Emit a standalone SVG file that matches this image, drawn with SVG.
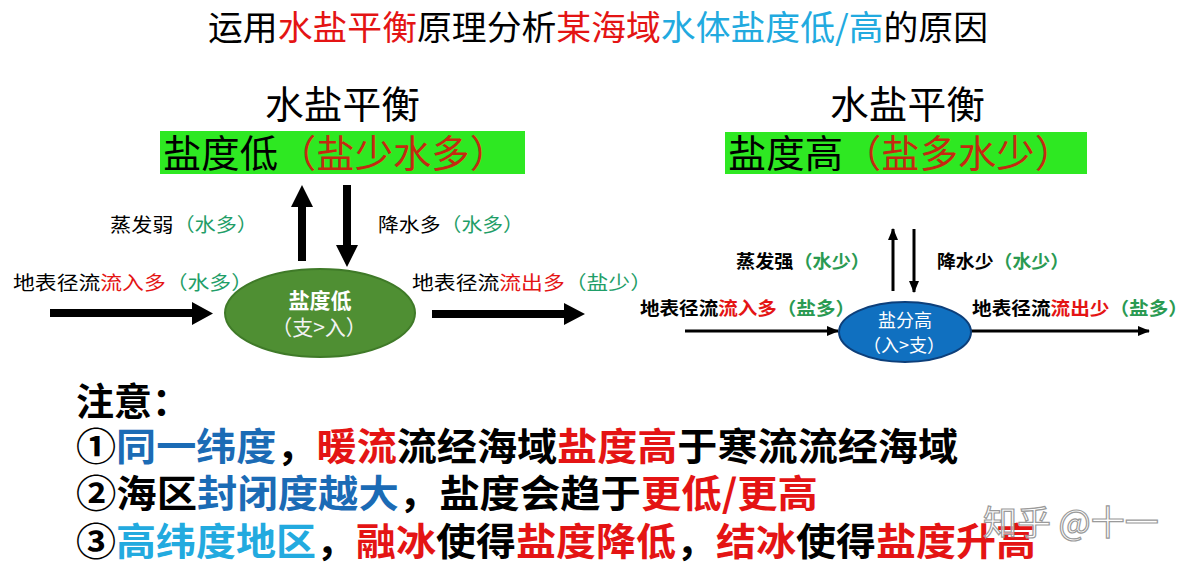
<svg xmlns="http://www.w3.org/2000/svg" width="1201" height="574" viewBox="0 0 1201 574">
<style>
text{font-family:"Noto Sans CJK SC","Liberation Sans",sans-serif}
.k{fill:#000}
.r{fill:#e41414}
.dr{fill:#c42a10}
.g{fill:#1f9e68}
.g2{fill:#2a9a52}
.b{fill:#1b6bb5}
.lb{fill:#22aadf}
.w{fill:#fff}
.bold{font-weight:700}
.thin{stroke:#000;stroke-width:3;fill:none}
</style>
<defs>
<marker id="ah" viewBox="0 0 12 10" refX="11" refY="5" markerWidth="12" markerHeight="10" orient="auto" markerUnits="userSpaceOnUse">
<path d="M0,0 L12,5 L0,10 z" fill="#000"/>
</marker>
</defs>
<rect width="1201" height="574" fill="#fff"/>

<g id="title">
<text x="208" y="40" font-size="34" textLength="780" lengthAdjust="spacingAndGlyphs"><tspan class="k">运用</tspan><tspan class="r">水盐平衡</tspan><tspan class="k">原理分析</tspan><tspan class="r">某海域</tspan><tspan class="lb">水体盐度低/高</tspan><tspan class="k">的原因</tspan></text>
</g>

<g id="left-heading">
<text x="265" y="118" font-size="38" textLength="155" lengthAdjust="spacingAndGlyphs" class="k">水盐平衡</text>
<rect x="160" y="131" width="365" height="43" fill="#2ee822"/>
<text x="163" y="167" font-size="38" textLength="345" lengthAdjust="spacingAndGlyphs"><tspan class="k">盐度低</tspan><tspan class="dr">（盐少水多）</tspan></text>
</g>

<g id="right-heading">
<text x="830" y="118" font-size="38" textLength="155" lengthAdjust="spacingAndGlyphs" class="k">水盐平衡</text>
<rect x="725" y="132" width="362" height="42" fill="#2ee822"/>
<text x="728" y="167" font-size="38" textLength="345" lengthAdjust="spacingAndGlyphs"><tspan class="k">盐度高</tspan><tspan class="dr">（盐多水少）</tspan></text>
</g>

<g id="connectors">
<polygon points="50,309 192,309 192,302 213,313.5 192,325 192,317 50,317" fill="#000"/>
<polygon points="432,310 564,310 564,303 585,314 564,325 564,318 432,318" fill="#000"/>
<polygon points="302,185 313,207 306,207 306,261 298,261 298,207 291,207" fill="#000"/>
<polygon points="343,185 351,185 351,245 358,245 347,267 336,245 343,245" fill="#000"/>
<line x1="893" y1="291" x2="893" y2="229" class="thin" marker-end="url(#ah)"/>
<line x1="914" y1="229" x2="914" y2="292" class="thin" marker-end="url(#ah)"/>
<line x1="685" y1="331" x2="838" y2="331" class="thin" marker-end="url(#ah)"/>
<line x1="971" y1="331" x2="1149" y2="331" class="thin" marker-end="url(#ah)"/>
</g>

<g id="left-labels">
<text x="110" y="232" font-size="19" textLength="148" lengthAdjust="spacingAndGlyphs"><tspan class="k">蒸发弱</tspan><tspan class="g">（水多）</tspan></text>
<text x="378" y="232" font-size="19" textLength="146" lengthAdjust="spacingAndGlyphs"><tspan class="k">降水多</tspan><tspan class="g">（水多）</tspan></text>
<text x="13" y="290" font-size="19" textLength="240" lengthAdjust="spacingAndGlyphs"><tspan class="k">地表径流</tspan><tspan class="r">流入多</tspan><tspan class="g">（水多）</tspan></text>
<text x="412" y="290" font-size="19" textLength="240" lengthAdjust="spacingAndGlyphs"><tspan class="k">地表径流</tspan><tspan class="r">流出多</tspan><tspan class="g">（盐少）</tspan></text>
</g>

<g id="left-node">
<ellipse cx="320" cy="313" rx="95" ry="44" fill="#4f8f33" stroke="#3f7a28" stroke-width="2"/>
<text x="320" y="308" font-size="21" text-anchor="middle" class="w bold">盐度低</text>
<text x="319" y="335" font-size="21" text-anchor="middle" fill="#f2f2f2">（支&gt;入）</text>
</g>

<g id="right-labels">
<text x="736" y="268" font-size="18" class="bold" textLength="134" lengthAdjust="spacingAndGlyphs"><tspan class="k">蒸发强</tspan><tspan class="g2">（水少）</tspan></text>
<text x="937" y="268" font-size="18" class="bold" textLength="132" lengthAdjust="spacingAndGlyphs"><tspan class="k">降水少</tspan><tspan class="g2">（水少）</tspan></text>
<text x="640" y="315" font-size="18" class="bold" textLength="215" lengthAdjust="spacingAndGlyphs"><tspan class="k">地表径流</tspan><tspan class="r">流入多</tspan><tspan class="g2">（盐多）</tspan></text>
<text x="972" y="315" font-size="18" class="bold" textLength="216" lengthAdjust="spacingAndGlyphs"><tspan class="k">地表径流</tspan><tspan class="r">流出少</tspan><tspan class="g2">（盐多）</tspan></text>
</g>

<g id="right-node">
<ellipse cx="905" cy="332" rx="66" ry="30" fill="#1070c0" stroke="#0d3f7a" stroke-width="2"/>
<text x="905" y="327" font-size="18" text-anchor="middle" class="w">盐分高</text>
<text x="904" y="352" font-size="18" text-anchor="middle" class="w">（入&gt;支）</text>
</g>

<g id="notes" class="bold">
<text x="76" y="415" font-size="38" class="k">注意：</text>
<text x="76" y="460" font-size="38" textLength="882" lengthAdjust="spacingAndGlyphs"><tspan class="k">①</tspan><tspan class="b">同一纬度</tspan><tspan class="k">，</tspan><tspan class="r">暖流</tspan><tspan class="k">流经海域</tspan><tspan class="r">盐度高</tspan><tspan class="k">于寒流流经海域</tspan></text>
<text x="76" y="507" font-size="38" textLength="742" lengthAdjust="spacingAndGlyphs"><tspan class="k">②海区</tspan><tspan class="b">封闭度越大</tspan><tspan class="k">，盐度会趋于</tspan><tspan class="r">更低/更高</tspan></text>
<text x="76" y="555" font-size="38" textLength="960" lengthAdjust="spacingAndGlyphs"><tspan class="k">③</tspan><tspan class="lb">高纬度地区</tspan><tspan class="k">，</tspan><tspan class="r">融冰</tspan><tspan class="k">使得</tspan><tspan class="r">盐度降低</tspan><tspan class="k">，</tspan><tspan class="r">结冰</tspan><tspan class="k">使得</tspan><tspan class="r">盐度升高</tspan></text>
</g>

<g id="watermark">
<text x="983" y="535" font-size="34" fill="#ffffff" fill-opacity="0.6" stroke="#9a9a9a" stroke-width="1.2">知乎 @十一</text>
</g>
</svg>
